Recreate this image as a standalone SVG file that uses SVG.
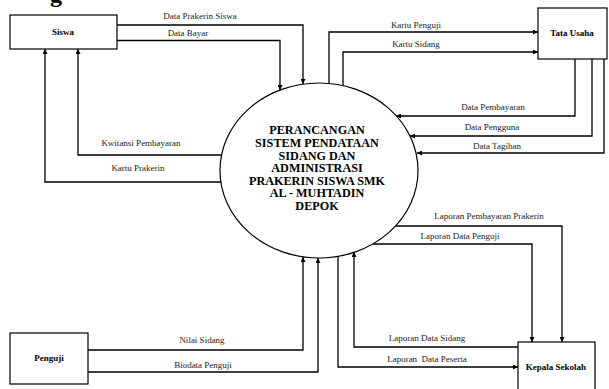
<svg xmlns="http://www.w3.org/2000/svg" width="609" height="389" viewBox="0 0 609 389">
<style>
.box{fill:#fff;stroke:#000;stroke-width:1.2}
.ln{fill:none;stroke:#000;stroke-width:1.3}
.lbl{font-family:"Liberation Serif",serif;font-size:9px;fill:#222;text-anchor:middle}
.nt{font-family:"Liberation Serif",serif;font-size:9px;font-weight:bold;fill:#000;text-anchor:middle}
.ct{font-family:"Liberation Serif",serif;font-size:12.2px;font-weight:bold;fill:#000;text-anchor:middle}
</style>
<defs>
<marker id="ah" viewBox="0 0 10 10" refX="10" refY="5" markerWidth="6" markerHeight="5" markerUnits="userSpaceOnUse" orient="auto">
<path d="M0,0 L10,5 L0,10 z" fill="#000"/>
</marker>
</defs>
<rect width="609" height="389" fill="#fff"/>
<text x="50" y="2" font-family="Liberation Serif,serif" font-size="24" font-weight="bold" fill="#000">g</text>
<g id="connectors">
<polyline class="ln" points="117,25 303,25 303,84" marker-end="url(#ah)"/>
<polyline class="ln" points="117,40.5 280,40.5 280,90" marker-end="url(#ah)"/>
<polyline class="ln" points="222,155 78,155 78,49" marker-end="url(#ah)"/>
<polyline class="ln" points="222,182 45,182 45,49" marker-end="url(#ah)"/>
<polyline class="ln" points="329,84 329,32 538,32" marker-end="url(#ah)"/>
<polyline class="ln" points="343,85.5 343,52 538,52" marker-end="url(#ah)"/>
<polyline class="ln" points="575,59 575,116 396,116" marker-end="url(#ah)"/>
<polyline class="ln" points="592,59 592,136 410,136" marker-end="url(#ah)"/>
<polyline class="ln" points="604,59 604,153 417,153" marker-end="url(#ah)"/>
<polyline class="ln" points="396,226 562,226 562,342" marker-end="url(#ah)"/>
<polyline class="ln" points="373,244 532,244 532,342" marker-end="url(#ah)"/>
<polyline class="ln" points="518,347 354,347 354,252" marker-end="url(#ah)"/>
<polyline class="ln" points="338,256 338,367 518,367" marker-end="url(#ah)"/>
<polyline class="ln" points="88,350 303,350 303,257" marker-end="url(#ah)"/>
<polyline class="ln" points="88,372 318,372 318,258" marker-end="url(#ah)"/>
<text class="lbl" x="200" y="19">Data Prakerin Siswa</text>
<text class="lbl" x="188" y="36">Data Bayar</text>
<text class="lbl" x="141" y="146">Kwitansi Pembayaran</text>
<text class="lbl" x="138" y="171">Kartu Prakerin</text>
<text class="lbl" x="416" y="28">Kartu Penguji</text>
<text class="lbl" x="416" y="47">Kartu Sidang</text>
<text class="lbl" x="493" y="110">Data Pembayaran</text>
<text class="lbl" x="492" y="130">Data Pengguna</text>
<text class="lbl" x="497" y="149">Data Tagihan</text>
<text class="lbl" x="489" y="219">Laporan Pembayaran Prakerin</text>
<text class="lbl" x="460" y="239">Laporan Data Penguji</text>
<text class="lbl" x="427" y="341">Laporan Data Sidang</text>
<text class="lbl" x="427" y="362" xml:space="preserve">Laporan  Data Peserta</text>
<text class="lbl" x="202" y="343">Nilai Sidang</text>
<text class="lbl" x="203" y="368">Biodata Penguji</text>
</g>
<g id="siswa">
<rect class="box" x="10" y="15" width="107" height="34"/>
<text class="nt" x="63" y="35">Siswa</text>
</g>
<g id="tata-usaha">
<rect class="box" x="538" y="8" width="69" height="51"/>
<text class="nt" x="572" y="36">Tata Usaha</text>
</g>
<g id="penguji">
<rect class="box" x="10" y="333" width="78" height="51"/>
<text class="nt" x="49" y="361">Penguji</text>
</g>
<g id="kepala-sekolah">
<rect class="box" x="518" y="342" width="77" height="50"/>
<text class="nt" x="556" y="370">Kepala Sekolah</text>
</g>
<g id="proses">
<ellipse cx="319" cy="170.5" rx="99" ry="87.5" fill="#fff" stroke="#000" stroke-width="1.2"/>
<text class="ct" x="317" y="134">PERANCANGAN</text>
<text class="ct" x="317" y="147">SISTEM PENDATAAN</text>
<text class="ct" x="317" y="159.5">SIDANG DAN</text>
<text class="ct" x="317" y="172">ADMINISTRASI</text>
<text class="ct" x="317" y="184.5">PRAKERIN SISWA SMK</text>
<text class="ct" x="317" y="197">AL - MUHTADIN</text>
<text class="ct" x="317" y="210">DEPOK</text>
</g>
</svg>
